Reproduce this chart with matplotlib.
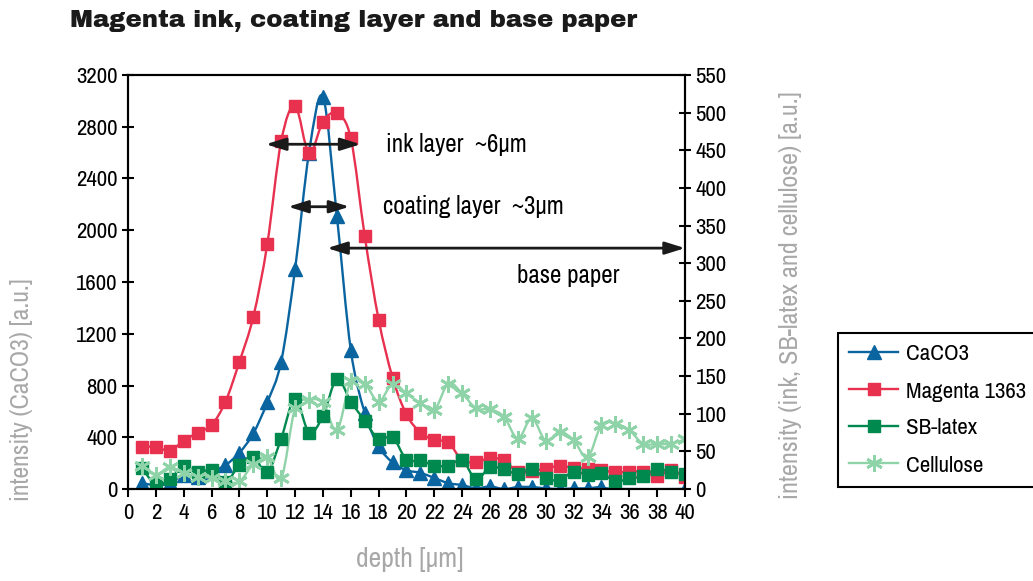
import numpy as np
import matplotlib.pyplot as plt
from matplotlib.path import Path
from matplotlib.patches import PathPatch
from matplotlib.lines import Line2D

plt.rcParams['font.family'] = ['Archivo Narrow', 'Liberation Sans Narrow', 'DejaVu Sans']

depth = list(range(1, 41))
caco3 = [45, 30, 45, 110, 95, 135, 185, 280, 430, 670,
         985, 1700, 2600, 3030, 2110, 1075, 590, 330, 205, 145,
         125, 85, 45, 30, 5, 20, 0, 15, 15, 5,
         0, 5, 5, 15, 0, np.nan, np.nan, np.nan, np.nan, 0]
magenta = [56, 56, 51, 64, 75, 85, 116, 169, 229, 325,
           462, 509, 446, 488, 499, 466, 336, 225, 148, 99,
           75, 65, 62, 38, 36, 41, 38, 22, 24, 27,
           31, 28, 27, 25, 22, 23, 23, 17, 25, 16]
latex = [28, 6, 13, 30, 22, 25, 9, 32, 43, 22,
         67, 120, 75, 97, 146, 116, 91, 66, 69, 39,
         38, 31, 31, 38, 13, 29, 26, 20, 27, 14,
         12, 23, 19, 21, 10, 14, 17, 27, 22, 20]
cellulose = [30, 19, 29, 21, 16, 15, 10, 10, 33, 42,
             14, 107, 118, 115, 78, 143, 140, 116, 140, 127,
             114, 105, 140, 127, 107, 106, 96, 67, 94, 64,
             76, 65, 42, 85, 87, 78, 60, 60, 60, 66]

c_caco3 = '#0a64a0'
c_mag = '#e8304f'
c_latex = '#00894f'
c_cell = '#8fd3a8'
grey = '#a8a8a8'


def smooth_path(x, y):
    # smoothed line through the points, like the spreadsheet "smoothed line"
    p = np.array([(a, b) for a, b in zip(x, y) if not np.isnan(b)], float)
    n = len(p)
    verts = [p[0]]
    codes = [Path.MOVETO]
    for i in range(n - 1):
        p0 = p[i - 1] if i > 0 else p[i]
        p3 = p[i + 2] if i + 2 < n else p[i + 1]
        verts += [p[i] + (p[i + 1] - p0) / 6, p[i + 1] - (p3 - p[i]) / 6, p[i + 1]]
        codes += [Path.CURVE4] * 3
    return Path(verts, codes)


fig = plt.figure(figsize=(10.33, 5.81), dpi=100)
ax = fig.add_axes([128 / 1033, 1 - 489 / 581, 557 / 1033, 414 / 581])
ax2 = ax.twinx()

series = [
    (ax, caco3, c_caco3, '^', 10, 'CaCO3'),
    (ax2, magenta, c_mag, 's', 9, 'Magenta 1363'),
    (ax2, latex, c_latex, 's', 9, 'SB-latex'),
    (ax2, cellulose, c_cell, (6, 2, 0), 12, 'Cellulose'),
]
handles = []
for a, vals, col, mk, ms, name in series:
    a.add_patch(PathPatch(smooth_path(depth, vals), fill=False, edgecolor=col, lw=1.7))
    mew = 2 if mk == (6, 2, 0) else 1
    a.plot(depth, vals, linestyle='none', marker=mk, ms=ms, color=col, mec=col, mew=mew)
    handles.append(Line2D([], [], color=col, lw=1.7, marker=mk, ms=ms, mec=col, mew=mew))

ax.set_xlim(0, 40)
ax.set_ylim(0, 3200)
ax2.set_ylim(0, 550)
ax.set_xticks(range(0, 41, 2))
ax.set_yticks(range(0, 3201, 400))
ax2.set_yticks(range(0, 551, 50))

for a in (ax, ax2):
    for s in a.spines.values():
        s.set_linewidth(1.5)
ax.tick_params(axis='x', direction='out', length=6, width=1.5, labelsize=16.5, pad=4)
ax.tick_params(axis='y', direction='inout', length=9, width=1.5, labelsize=16.5, pad=3)
ax2.tick_params(axis='y', direction='inout', length=9, width=1.5, labelsize=16.5, pad=3)

# annotations (right-axis units)
arrow = dict(arrowstyle='<|-|>,head_length=0.8,head_width=0.25', color='#1a1a1a',
             lw=2, shrinkA=0, shrinkB=0, mutation_scale=15)
ax2.annotate('', xy=(9.9, 458), xytext=(16.7, 458), arrowprops=arrow)
ax2.annotate('', xy=(11.5, 375), xytext=(15.9, 375), arrowprops=arrow)
ax2.annotate('', xy=(14.3, 320), xytext=(40, 320), arrowprops=arrow)
ax2.text(18.5, 458, 'ink layer  ~6µm', fontsize=18, va='center', ha='left')
ax2.text(18.3, 375, 'coating layer  ~3µm', fontsize=18, va='center', ha='left')
ax2.text(27.9, 284, 'base paper', fontsize=18, va='center', ha='left')

fig.text(70 / 1033, 1 - 21 / 581, 'Magenta ink, coating layer and base paper',
         fontsize=17.5, family=['Archivo Black', 'DejaVu Sans'], fontweight='heavy',
         va='center', ha='left', color='#1a1a1a')
fig.text(410 / 1033, 1 - 560 / 581, 'depth [µm]', fontsize=20, color=grey,
         ha='center', va='center')
fig.text(22 / 1033, 1 - 390 / 581, 'intensity (CaCO3) [a.u.]', fontsize=18.5, color=grey,
         rotation=90, ha='center', va='center')
fig.text(790 / 1033, 1 - 295 / 581, 'intensity (ink, SB-latex and cellulose) [a.u.]',
         fontsize=18.8, color=grey, rotation=90, ha='center', va='center')

leg = fig.legend(handles, [s[5] for s in series], loc='upper left',
                 bbox_to_anchor=(838 / 1033, 1 - 333 / 581), borderaxespad=0,
                 fancybox=False, edgecolor='black', framealpha=1, fontsize=16.5,
                 handlelength=2.1, labelspacing=0.74, handletextpad=0.35,
                 borderpad=0.5)
leg.get_frame().set_linewidth(1.5)

fig.savefig('out.png', dpi=100)
